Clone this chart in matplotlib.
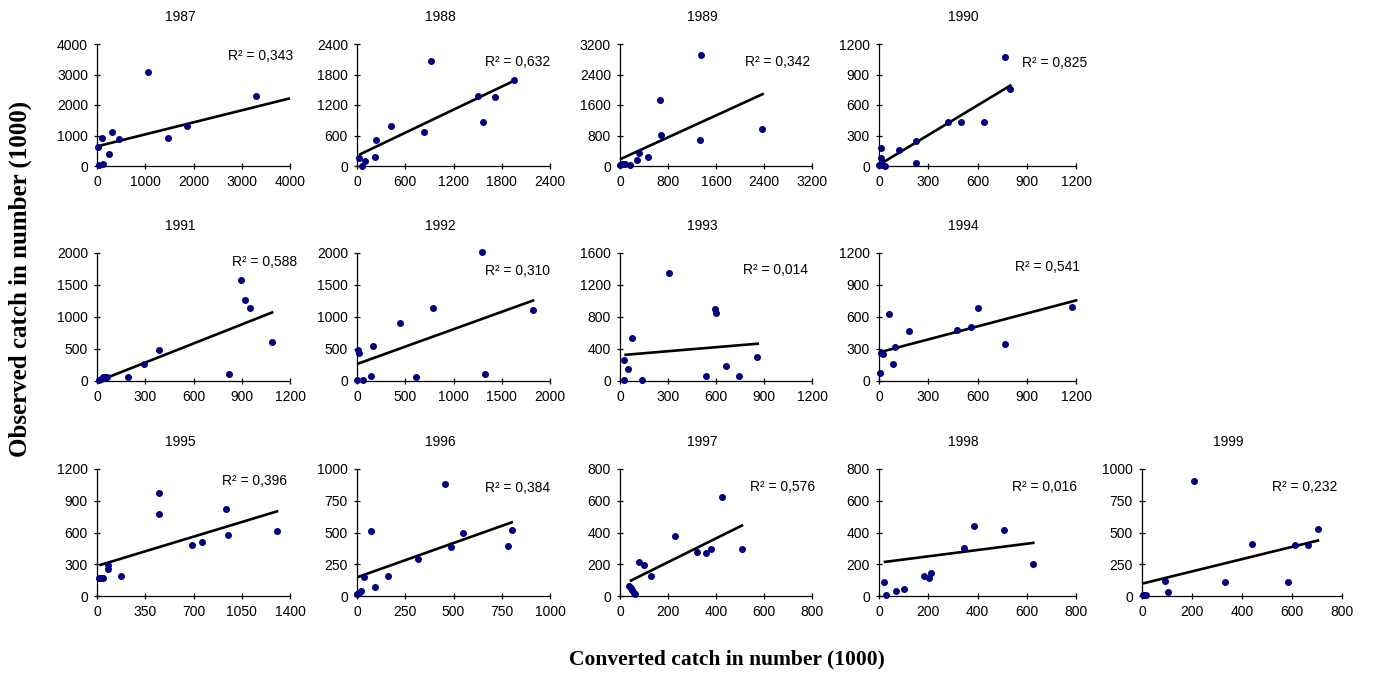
import numpy as np
import matplotlib
matplotlib.use("Agg")
import matplotlib.pyplot as plt
from matplotlib.ticker import MultipleLocator

# years shown, one panel each
years = [1987, 1988, 1989, 1990, 1991, 1992, 1993, 1994, 1995, 1996, 1997, 1998, 1999]

# converted catch (x) per year
conv_x = [
    [14, 35, 124, 103, 241, 317, 455, 1055, 1462, 1869, 3290],
    [25, 58, 95, 224, 241, 419, 830, 926, 1499, 1565, 1711, 1956],
    [6, 28, 56, 83, 167, 278, 323, 473, 673, 690, 1330, 1352, 2365],
    [2, 10, 12, 18, 39, 119, 223, 223, 423, 497, 642, 769, 797],
    [12, 27, 37, 52, 62, 191, 295, 386, 820, 895, 918, 953, 1090],
    [3, 7, 24, 59, 142, 170, 443, 609, 785, 1291, 1329, 1820],
    [27, 27, 53, 76, 135, 309, 535, 592, 600, 665, 743, 857],
    [4, 12, 26, 61, 85, 99, 180, 473, 560, 602, 770, 1176],
    [17, 29, 41, 80, 80, 174, 450, 450, 690, 765, 937, 947, 1303],
    [2, 10, 19, 38, 71, 93, 159, 318, 455, 488, 550, 780, 803],
    [38, 45, 52, 58, 64, 79, 99, 130, 228, 319, 357, 378, 426, 507],
    [22, 27, 70, 101, 183, 205, 211, 347, 384, 509, 625],
    [3, 9, 17, 92, 103, 207, 332, 440, 584, 611, 663, 705],
]

# observed catch (y) per year
obs_y = [
    [626, 20, 55, 923, 396, 1099, 879, 3066, 923, 1297, 2308],
    [152, 7, 92, 185, 521, 785, 666, 2070, 1385, 864, 1352, 1694],
    [18, 62, 62, 44, 18, 158, 343, 246, 1723, 809, 694, 2901, 958],
    [7, 76, 178, 10, 3, 162, 247, 33, 435, 432, 432, 1075, 758],
    [10, 36, 57, 62, 57, 57, 259, 482, 104, 1585, 1269, 1140, 617],
    [10, 487, 435, 10, 83, 554, 912, 57, 1135, 2010, 104, 1114],
    [8, 261, 153, 535, 8, 1355, 66, 895, 854, 191, 66, 303],
    [75, 267, 249, 628, 155, 317, 466, 482, 510, 681, 345, 693],
    [174, 174, 174, 256, 291, 190, 972, 779, 478, 507, 820, 576, 614],
    [13, 27, 42, 151, 509, 74, 154, 292, 878, 387, 499, 395, 520],
    [60, 52, 40, 19, 15, 215, 196, 123, 377, 277, 269, 296, 621, 296],
    [90, 6, 34, 43, 126, 113, 145, 304, 443, 413, 201],
    [8, 8, 8, 120, 32, 904, 112, 410, 112, 399, 399, 527],
]

# linear trend lines as drawn (intercept, slope, x range)
trend_icpt = [643, 201, 176, 12, -10, 265, 322, 268, 284, 147, 63, 210, 97]
trend_slope = [0.394, 0.756, 0.719, 0.974, 0.993, 0.544, 0.1675, 0.406, 0.395, 0.540, 0.75, 0.199, 0.483]
trend_x0 = [14, 25, 0, 4, 12, 7, 27, 4, 17, 3, 41, 19, 3]
trend_x1 = [4000, 1956, 2398, 807, 1096, 1837, 869, 1208, 1315, 808, 513, 632, 709]

r2_labels = ["0,343", "0,632", "0,342", "0,825", "0,588", "0,310", "0,014",
             "0,541", "0,396", "0,384", "0,576", "0,016", "0,232"]

# axis ranges (4 tick steps each)
x_max = [4000, 2400, 3200, 1200, 1200, 2000, 1200, 1200, 1400, 1000, 800, 800, 800]
y_max = [4000, 2400, 3200, 1200, 2000, 2000, 1600, 1200, 1200, 1000, 800, 800, 1000]

# layout (pixels in the 1377x673 canvas)
W, H = 1377, 673
col_left = [97, 357, 620, 879, 1142]
col_width = [193, 193, 192, 197, 200]
row_top = [44, 253, 469]
row_bottom = [166, 381, 596]
panel_rc = [(0, 0), (0, 1), (0, 2), (0, 3),
            (1, 0), (1, 1), (1, 2), (1, 3),
            (2, 0), (2, 1), (2, 2), (2, 3), (2, 4)]
r2_pos = [(1.015, 0.90), (1.0, 0.85), (0.99, 0.85), (1.056, 0.845),
          (1.036, 0.93), (1.0, 0.86), (0.98, 0.867), (1.02, 0.89),
          (0.984, 0.905), (1.0, 0.85), (1.016, 0.86), (1.005, 0.86), (0.975, 0.86)]

plt.rcParams['font.family'] = ['Liberation Sans', 'DejaVu Sans']

fig = plt.figure(figsize=(W / 100, H / 100), dpi=100)

for i, yr in enumerate(years):
    r, c = panel_rc[i]
    left = col_left[c] / W
    bottom = 1 - row_bottom[r] / H
    width = col_width[c] / W
    height = (row_bottom[r] - row_top[r]) / H
    ax = fig.add_axes([left, bottom, width, height])

    ax.plot(conv_x[i], obs_y[i], 'o', color='#000080', markersize=4, clip_on=False, zorder=3)

    tx = np.array([trend_x0[i], trend_x1[i]])
    ax.plot(tx, trend_icpt[i] + trend_slope[i] * tx, color='black', linewidth=1.9,
            solid_capstyle='butt', clip_on=False, zorder=2)

    ax.set_xlim(0, x_max[i])
    ax.set_ylim(0, y_max[i])
    ax.xaxis.set_major_locator(MultipleLocator(x_max[i] / 4))
    ax.yaxis.set_major_locator(MultipleLocator(y_max[i] / 4))
    ax.spines['top'].set_visible(False)
    ax.spines['right'].set_visible(False)
    for s in ['left', 'bottom']:
        ax.spines[s].set_linewidth(0.9)
    ax.tick_params(direction='inout', length=5, width=0.9, labelsize=10, pad=4)
    ax.set_facecolor('none')

    ax.text(0.43, 1.0 + 27 / (row_bottom[r] - row_top[r]), str(yr), transform=ax.transAxes,
            ha='center', va='center', fontsize=10)
    ax.text(r2_pos[i][0], r2_pos[i][1], "R² = " + r2_labels[i], transform=ax.transAxes,
            ha='right', va='center', fontsize=10)

fig.text(20 / W, 1 - 279 / H, "Observed catch in number (1000)", rotation=90,
         ha='center', va='center', fontsize=18, fontweight='bold', family='Liberation Serif')
fig.text(727 / W, 1 - 659 / H, "Converted catch in number (1000)",
         ha='center', va='center', fontsize=15.5, fontweight='bold', family='Liberation Serif')

fig.savefig("out.png", dpi=100)
